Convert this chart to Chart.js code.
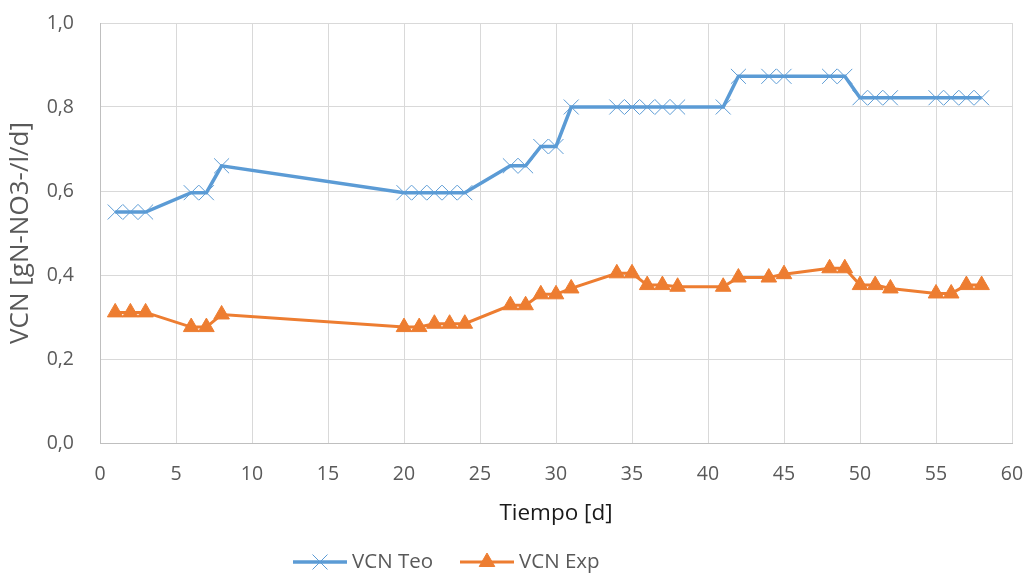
<!DOCTYPE html>
<html>
<head>
<meta charset="utf-8">
<script src="https://cdn.jsdelivr.net/npm/chart.js@4.4.1/dist/chart.umd.min.js"></script>
<style>
html,body{margin:0;padding:0;background:#fff;}
#wrap{width:1026px;height:573px;position:relative;}
</style>
</head>
<body>
<div id="wrap"><canvas id="c" width="1026" height="573"></canvas></div>
<script>
const days = [1,2,3,6,7,8,20,21,22,23,24,27,28,29,30,31,34,35,36,37,38,41,42,44,45,48,49,50,51,52,55,56,57,58];
const vcnTeo = [0.550,0.550,0.550,0.596,0.596,0.660,0.596,0.596,0.596,0.596,0.596,0.660,0.660,0.706,0.706,0.800,0.800,0.800,0.800,0.800,0.800,0.800,0.873,0.873,0.873,0.873,0.873,0.822,0.822,0.822,0.822,0.822,0.822,0.822];
const vcnExp = [0.311,0.311,0.311,0.276,0.276,0.306,0.276,0.276,0.284,0.284,0.284,0.328,0.328,0.354,0.354,0.368,0.404,0.404,0.376,0.376,0.372,0.372,0.394,0.394,0.402,0.416,0.416,0.376,0.376,0.368,0.356,0.356,0.376,0.376];
const seriesNames = ['VCN Teo','VCN Exp'];
const xTitle = 'Tiempo [d]';
const yTitle = 'VCN [gN-NO3-/l/d]';

const BLUE = '#5B9BD5', ORANGE = '#ED7D31';
const FONT = '"Open Sans", Lato, sans-serif';

function pts(xs, ys){ return xs.map((x,i)=>({x:x,y:ys[i]})); }

const legendPlugin = {
  id:'customLegend',
  afterDraw(chart){
    const ctx = chart.ctx;
    const y = 562;
    const ds = chart.data.datasets;
    const items = [
      {x0:293, x1:347, color:BLUE, lw:3.5, style:'crossRot', r:10.6, label:ds[0].label},
      {x0:460, x1:514, color:ORANGE, lw:3, style:'triangle', r:9, label:ds[1].label}
    ];
    ctx.save();
    items.forEach(it=>{
      ctx.strokeStyle = it.color; ctx.lineWidth = it.lw;
      ctx.beginPath(); ctx.moveTo(it.x0,y); ctx.lineTo(it.x1,y); ctx.stroke();
      const cx = (it.x0+it.x1)/2;
      ctx.fillStyle = it.color; ctx.strokeStyle = it.color; ctx.lineWidth = 1;
      Chart.helpers.drawPoint(ctx, {pointStyle:it.style, radius:it.r, borderWidth:1}, cx, y);
      ctx.fillStyle = '#595959';
      ctx.font = '20.5px ' + FONT;
      ctx.textBaseline = 'middle';
      ctx.textAlign = 'left';
      ctx.fillText(it.label, it.x1+5, y);
    });
    ctx.restore();
  }
};

new Chart(document.getElementById('c'), {
  type:'scatter',
  data:{
    datasets:[
      {label:seriesNames[0], data:pts(days,vcnTeo), showLine:true, borderColor:BLUE, backgroundColor:BLUE,
       borderWidth:3.5, pointStyle:'crossRot', pointRadius:10.6, pointBorderWidth:1, pointBorderColor:BLUE, pointBackgroundColor:BLUE, tension:0},
      {label:seriesNames[1], data:pts(days,vcnExp), showLine:true, borderColor:ORANGE, backgroundColor:ORANGE,
       borderWidth:3, pointStyle:'triangle', pointRadius:9, pointBorderWidth:1, pointBorderColor:ORANGE, pointBackgroundColor:ORANGE, tension:0}
    ]
  },
  options:{
    responsive:false, animation:false,
    layout:{padding:{top:23,right:14,bottom:40,left:0}, autoPadding:false},
    plugins:{legend:{display:false}, tooltip:{enabled:false}},
    scales:{
      x:{type:'linear', min:0, max:60,
         ticks:{stepSize:5, padding:20, color:'#595959', font:{family:FONT,size:19.5}},
         grid:{color:'#d9d9d9', lineWidth:1, drawTicks:false},
         border:{color:'#bfbfbf', width:1},
         title:{display:true, text:xTitle, color:'#1a1a1a', font:{family:FONT,size:22.5}, padding:{top:4,bottom:5.5}},
         afterFit(s){ s.height = 90; s.paddingLeft = 0; s.paddingRight = 0; }
      },
      y:{min:0, max:1,
         ticks:{stepSize:0.2, padding:26, color:'#595959', font:{family:FONT,size:19.5},
           callback:(v)=>v.toFixed(1).replace('.',',')},
         grid:{color:'#d9d9d9', lineWidth:1, drawTicks:false},
         border:{color:'#bfbfbf', width:1},
         title:{display:true, text:yTitle, color:'#595959', font:{family:FONT,size:26}, padding:{top:5,bottom:0}},
         afterFit(s){ s.width = 100; s.paddingTop = 0; s.paddingBottom = 0; }
      }
    }
  },
  plugins:[legendPlugin]
});
</script>
</body>
</html>
